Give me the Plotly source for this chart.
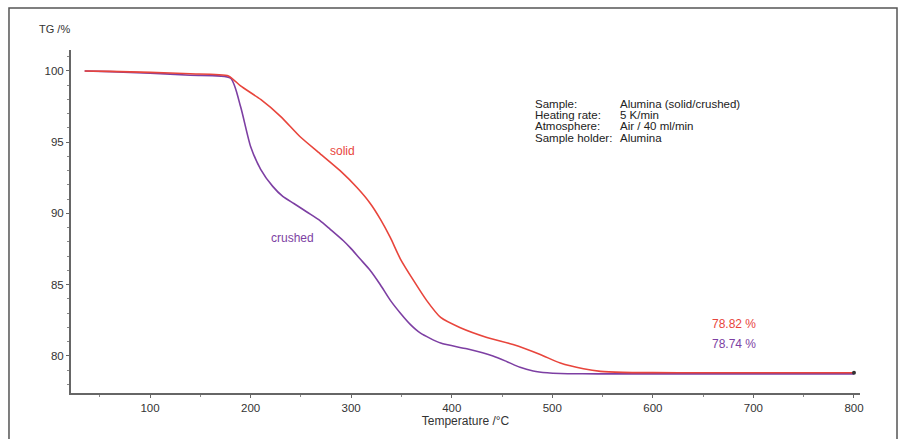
import plotly.graph_objects as go

# --- data ---
solid_T = [35, 60, 100, 140, 178, 190, 210, 230, 249, 269, 289, 306, 319, 329, 339, 349,
           362, 375, 389, 408, 435, 461, 488, 508, 531, 548, 570, 600, 650, 700, 750, 800]
solid_TG = [100.0, 99.97, 99.9, 99.8, 99.65, 98.95, 98.0, 96.8, 95.4, 94.2, 93.0, 91.8, 90.7,
            89.6, 88.3, 86.8, 85.3, 83.9, 82.7, 82.0, 81.3, 80.8, 80.1, 79.5, 79.1, 78.92,
            78.85, 78.83, 78.82, 78.82, 78.82, 78.82]

crushed_T = [35, 60, 100, 140, 180, 190, 200, 210, 222, 232, 243, 256, 269, 279, 292, 299,
             309, 319, 329, 339, 349, 359, 369, 389, 415, 441, 455, 468, 481, 495, 508, 530,
             560, 600, 700, 800]
crushed_TG = [100.0, 99.95, 99.85, 99.7, 99.5, 97.5, 94.7, 93.1, 91.9, 91.2, 90.7, 90.1, 89.5,
              88.9, 88.1, 87.6, 86.8, 86.0, 85.0, 83.9, 83.0, 82.2, 81.6, 80.9, 80.5, 80.0,
              79.6, 79.2, 78.95, 78.82, 78.77, 78.75, 78.74, 78.74, 78.74, 78.74]

x_ticks = [100, 200, 300, 400, 500, 600, 700, 800]
y_ticks = [80, 85, 90, 95, 100]

info_keys = ["Sample:", "Heating rate:", "Atmosphere:", "Sample holder:"]
info_vals = ["Alumina (solid/crushed)", "5 K/min", "Air / 40 ml/min", "Alumina"]

RED = "#e8453c"
PURPLE = "#7d3fa3"
FONT = "Liberation Sans, Arial, sans-serif"
TXT = "#333333"

fig = go.Figure()
fig.add_trace(go.Scatter(x=crushed_T, y=crushed_TG, mode="lines",
                         line=dict(color=PURPLE, width=1.6, shape="spline", smoothing=0.6),
                         showlegend=False, hoverinfo="skip"))
fig.add_trace(go.Scatter(x=solid_T, y=solid_TG, mode="lines",
                         line=dict(color=RED, width=1.6, shape="spline", smoothing=0.6),
                         showlegend=False, hoverinfo="skip"))
fig.add_trace(go.Scatter(x=[solid_T[-1]], y=[solid_TG[-1]], mode="markers",
                         marker=dict(color="#333333", size=4), showlegend=False, hoverinfo="skip"))

fig.update_layout(
    width=908, height=439,
    margin=dict(l=71, r=48, t=50, b=46),
    paper_bgcolor="white", plot_bgcolor="white",
    font=dict(family=FONT, size=11, color=TXT),
    xaxis=dict(range=[21.4, 806], tickvals=x_ticks, showgrid=False, zeroline=False,
               showline=True, linecolor="#666666", linewidth=2,
               ticks="outside", ticklen=3, tickcolor="#666666",
               minor=dict(dtick=50, ticks="outside", ticklen=2, tickcolor="#888888"),
               tickfont=dict(size=11.5, color=TXT),
               title=dict(text="Temperature /°C", font=dict(size=12, color=TXT), standoff=0)),
    yaxis=dict(range=[77.4, 101.47], tickvals=y_ticks, showgrid=False, zeroline=False,
               showline=True, linecolor="#666666", linewidth=2,
               ticks="outside", ticklen=3, tickcolor="#666666",
               minor=dict(dtick=1, ticks="outside", ticklen=2, tickcolor="#888888"),
               tickfont=dict(size=11.5, color=TXT)),
)

# outer frame
fig.add_shape(type="rect", xref="paper", yref="paper", x0=-0.0786, x1=1.0469, y0=-0.16, y1=1.1224,
              line=dict(color="#555555", width=1.5))

annos = [
    dict(x=(54 - 71) / 789, y=(393 - 29) / 343, xref="paper", yref="paper", text="TG /%",
         xanchor="center", yanchor="middle", font=dict(size=11, color=TXT)),
    dict(x=291, y=94.4, text="solid", font=dict(size=12, color=RED)),
    dict(x=242, y=88.3, text="crushed", font=dict(size=12, color=PURPLE)),
    dict(x=681, y=82.25, text="78.82 %", font=dict(size=12, color=RED)),
    dict(x=681, y=80.85, text="78.74 %", font=dict(size=12, color=PURPLE)),
]
for a in annos:
    a.setdefault("xref", "x")
    a.setdefault("yref", "y")
    a["showarrow"] = False
    fig.add_annotation(**a)

row_y = [103.5, 115, 126.5, 138]
for k, v, py in zip(info_keys, info_vals, row_y):
    yp = (393 - py) / 343
    fig.add_annotation(x=(533 - 71) / 789, y=yp, xref="paper", yref="paper", text=k,
                       xanchor="left", yanchor="middle", showarrow=False,
                       font=dict(size=11.5, color="#222222"))
    fig.add_annotation(x=(618 - 71) / 789, y=yp, xref="paper", yref="paper", text=v,
                       xanchor="left", yanchor="middle", showarrow=False,
                       font=dict(size=11.5, color="#222222"))

fig.write_html("out.html")
